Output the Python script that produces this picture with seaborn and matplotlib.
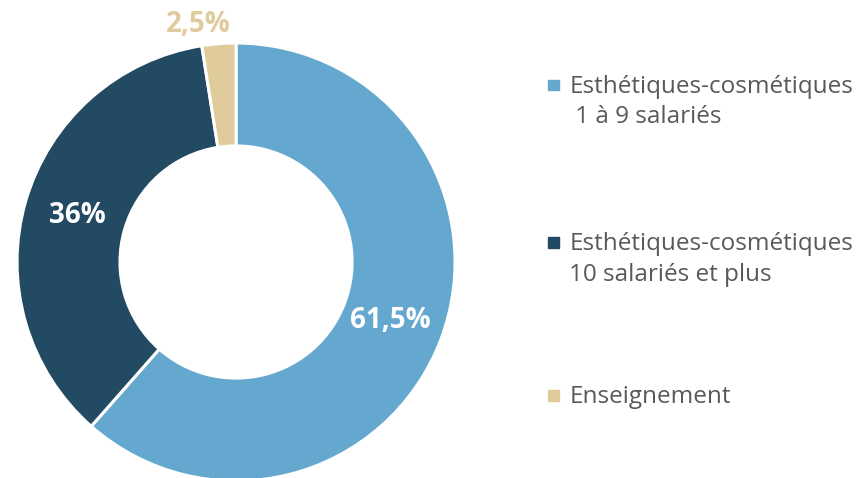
import numpy as np
import matplotlib.pyplot as plt
import seaborn as sns

# data
categories = ["Esthétiques-cosmétiques\n 1 à 9 salariés",
              "Esthétiques-cosmétiques\n10 salariés et plus",
              "Enseignement"]
shares = [61.5, 36.0, 2.5]
share_labels = ["61,5%", "36%", "2,5%"]
colors = sns.color_palette(["#65A8CF", "#224A63", "#DFCB9B"])

sns.set_theme(style="white")
plt.rcParams['font.family'] = ['Open Sans', 'DejaVu Sans']

fig = plt.figure(figsize=(8.56, 4.78), dpi=100)
ax = fig.add_axes([0.0199, -0.0063, 0.5117, 0.9163])

wedges, _ = ax.pie(shares, colors=colors, startangle=90, counterclock=False,
                   radius=1, wedgeprops=dict(width=0.47, edgecolor='white', linewidth=2.2))
ax.set_xlim(-1, 1)
ax.set_ylim(-1, 1)
ax.set_aspect('equal')
ax.axis('off')

# percentage labels
for w, lab, c in zip(wedges, share_labels, colors):
    mid = np.deg2rad((w.theta1 + w.theta2) / 2)
    if lab == "2,5%":
        r, col = 1.10, c
        mid += np.deg2rad(4.5)
    else:
        r, col = 0.755, 'white'
    ax.text(r * np.cos(mid), r * np.sin(mid), lab, ha='center', va='center',
            fontsize=20, fontweight='bold', color=col)

# legend on the right
ys = [0.822, 0.492, 0.173]
for lab, c, y in zip(categories, colors, ys):
    fig.patches.append(plt.Rectangle((0.640, y - 0.011), 0.0125, 0.0225,
                                     transform=fig.transFigure, color=c))
    fig.text(0.665, y + 0.022, lab, ha='left', va='top', fontsize=17.5,
             color='#595959', linespacing=1.38)

plt.savefig("out.png", dpi=100)
